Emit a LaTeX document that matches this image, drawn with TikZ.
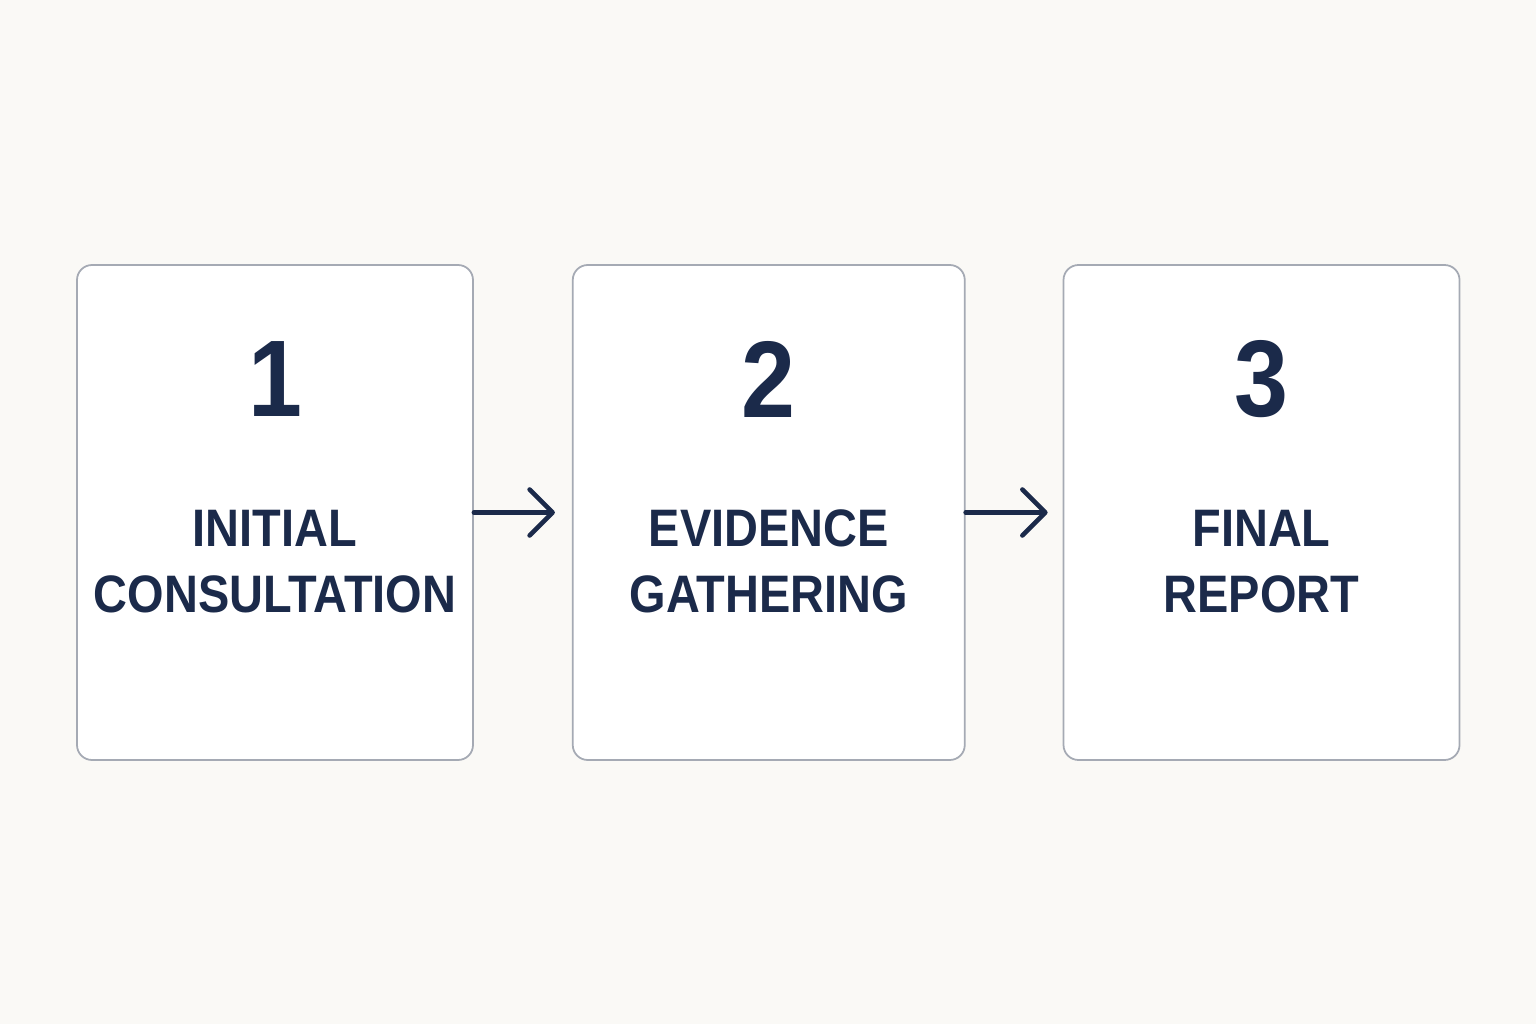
\documentclass[tikz,border=0pt]{standalone}
\usepackage{fontspec}
\usepackage{xcolor}
\usepackage{tikz}
\usetikzlibrary{positioning, arrows.meta}
\setmainfont{Liberation Sans}
\newfontfamily\stepfont{Liberation Sans}[FakeStretch=0.89]
\definecolor{navy}{RGB}{27,42,74}
\definecolor{edgegray}{RGB}{165,170,180}
\definecolor{paper}{RGB}{250,249,246}

\begin{document}
\begin{tikzpicture} [stepbox/.style = {draw = edgegray,
					    line width = 0.5pt,
					    fill = white,
					    rounded corners = 0.15cm,
					    minimum width = 3.96cm,
					    minimum height = 4.95cm},
					num/.style = {text = navy,
					    font = \stepfont\bfseries\fontsize{31}{31}\selectfont},
					lbl/.style = {text = navy,
					    align = center,
					    font = \stepfont\bfseries\fontsize{15}{18.8}\selectfont},
					flow/.style = {draw = navy,
					    line width = 1.3pt,
					    line cap = round,
					    -{Straight Barb[length=2.3mm, width=4.6mm, round]}}]

					\fill[paper] (0,0) rectangle (15.36,10.24);
					\useasboundingbox (0,0) rectangle (15.36,10.24);

					\node (b1) at (2.75,5.115) [stepbox] {};
					\node (b2) [stepbox, minimum width = 3.92cm, right=0.98cm of b1] {};
					\node (b3) [stepbox, right=0.97cm of b2] {};

					\node (n1) at ([yshift=1.33cm]b1.center) [num] {1};
					\node (n2) at ([yshift=1.33cm]b2.center) [num] {2};
					\node (n3) at ([yshift=1.33cm]b3.center) [num] {3};

					\node (t1) at ([yshift=-0.49cm]b1.center) [lbl] {INITIAL\\CONSULTATION};
					\node (t2) at ([yshift=-0.49cm]b2.center) [lbl] {EVIDENCE\\GATHERING};
					\node (t3) at ([yshift=-0.49cm]b3.center) [lbl] {FINAL\\REPORT};

					\draw[flow] (b1.east) -- ([xshift=-0.17cm]b2.west);
					\draw[flow] (b2.east) -- ([xshift=-0.15cm]b3.west);
				\end{tikzpicture}
\end{document}
